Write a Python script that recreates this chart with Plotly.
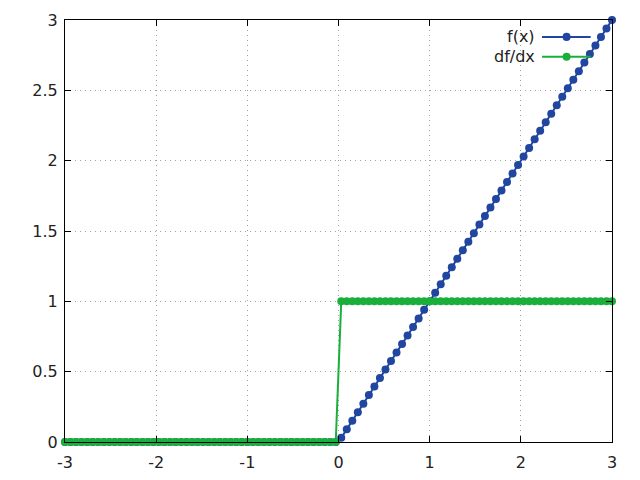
import plotly.graph_objects as go

x_vals = [-3.0000, -2.9394, -2.8788, -2.8182, -2.7576, -2.6970, -2.6364, -2.5758, -2.5152, -2.4545,
          -2.3939, -2.3333, -2.2727, -2.2121, -2.1515, -2.0909, -2.0303, -1.9697, -1.9091, -1.8485,
          -1.7879, -1.7273, -1.6667, -1.6061, -1.5455, -1.4848, -1.4242, -1.3636, -1.3030, -1.2424,
          -1.1818, -1.1212, -1.0606, -1.0000, -0.9394, -0.8788, -0.8182, -0.7576, -0.6970, -0.6364,
          -0.5758, -0.5152, -0.4545, -0.3939, -0.3333, -0.2727, -0.2121, -0.1515, -0.0909, -0.0303,
          0.0303, 0.0909, 0.1515, 0.2121, 0.2727, 0.3333, 0.3939, 0.4545, 0.5152, 0.5758,
          0.6364, 0.6970, 0.7576, 0.8182, 0.8788, 0.9394, 1.0000, 1.0606, 1.1212, 1.1818,
          1.2424, 1.3030, 1.3636, 1.4242, 1.4848, 1.5455, 1.6061, 1.6667, 1.7273, 1.7879,
          1.8485, 1.9091, 1.9697, 2.0303, 2.0909, 2.1515, 2.2121, 2.2727, 2.3333, 2.3939,
          2.4545, 2.5152, 2.5758, 2.6364, 2.6970, 2.7576, 2.8182, 2.8788, 2.9394, 3.0000]

f_vals = [0, 0, 0, 0, 0, 0, 0, 0, 0, 0,
          0, 0, 0, 0, 0, 0, 0, 0, 0, 0,
          0, 0, 0, 0, 0, 0, 0, 0, 0, 0,
          0, 0, 0, 0, 0, 0, 0, 0, 0, 0,
          0, 0, 0, 0, 0, 0, 0, 0, 0, 0,
          0.0303, 0.0909, 0.1515, 0.2121, 0.2727, 0.3333, 0.3939, 0.4545, 0.5152, 0.5758,
          0.6364, 0.6970, 0.7576, 0.8182, 0.8788, 0.9394, 1.0000, 1.0606, 1.1212, 1.1818,
          1.2424, 1.3030, 1.3636, 1.4242, 1.4848, 1.5455, 1.6061, 1.6667, 1.7273, 1.7879,
          1.8485, 1.9091, 1.9697, 2.0303, 2.0909, 2.1515, 2.2121, 2.2727, 2.3333, 2.3939,
          2.4545, 2.5152, 2.5758, 2.6364, 2.6970, 2.7576, 2.8182, 2.8788, 2.9394, 3.0000]

df_vals = [0, 0, 0, 0, 0, 0, 0, 0, 0, 0,
           0, 0, 0, 0, 0, 0, 0, 0, 0, 0,
           0, 0, 0, 0, 0, 0, 0, 0, 0, 0,
           0, 0, 0, 0, 0, 0, 0, 0, 0, 0,
           0, 0, 0, 0, 0, 0, 0, 0, 0, 0,
           1, 1, 1, 1, 1, 1, 1, 1, 1, 1,
           1, 1, 1, 1, 1, 1, 1, 1, 1, 1,
           1, 1, 1, 1, 1, 1, 1, 1, 1, 1,
           1, 1, 1, 1, 1, 1, 1, 1, 1, 1,
           1, 1, 1, 1, 1, 1, 1, 1, 1, 1]

series_names = ["f(x)", "df/dx"]
x_ticks = [-3, -2, -1, 0, 1, 2, 3]
y_ticks = [0, 0.5, 1, 1.5, 2, 2.5, 3]
y_tick_labels = ["0", "0.5", "1", "1.5", "2", "2.5", "3"]

BLUE = "#2046a0"
GREEN = "#1aaf3a"
FONT = "DejaVu Sans"
TXT = "#222222"
FS = 16

fig = go.Figure()
fig.add_trace(go.Scatter(x=x_vals, y=f_vals, mode="lines+markers", name=series_names[0],
                         line=dict(color=BLUE, width=2), marker=dict(color=BLUE, size=8),
                         cliponaxis=False, showlegend=False))
fig.add_trace(go.Scatter(x=x_vals, y=df_vals, mode="lines+markers", name=series_names[1],
                         line=dict(color=GREEN, width=2), marker=dict(color=GREEN, size=8),
                         cliponaxis=False, showlegend=False))

axis_common = dict(showline=True, linecolor="black", linewidth=1, mirror="ticks",
                   ticks="inside", ticklen=6, tickcolor="black", tickwidth=1,
                   showgrid=True, gridcolor="#a0a0a0", griddash="1px,4px", gridwidth=1,
                   zeroline=False, automargin=False,
                   tickfont=dict(family=FONT, size=FS, color=TXT))

fig.update_xaxes(range=[-3, 3], tickvals=x_ticks, ticktext=[str(v) for v in x_ticks],
                 ticklabelstandoff=6, **axis_common)
fig.update_yaxes(range=[0, 3], tickvals=y_ticks, ticktext=y_tick_labels,
                 ticklabelstandoff=3, **axis_common)

# gnuplot-style legend (text, then line sample with marker)
legend_rows = [(series_names[0], BLUE, 0.960), (series_names[1], GREEN, 0.913)]
shapes = []
annotations = []
for name, color, yp in legend_rows:
    annotations.append(dict(xref="paper", yref="paper", x=0.858, y=yp, text=name, showarrow=False,
                            xanchor="right", yanchor="middle", xshift=3,
                            font=dict(family=FONT, size=FS, color=TXT)))
    shapes.append(dict(type="line", xref="paper", yref="paper", x0=0.872, x1=0.961, y0=yp, y1=yp,
                       line=dict(color=color, width=2)))
    shapes.append(dict(type="circle", xref="paper", yref="paper", x0=0.917 - 0.0073, x1=0.917 + 0.0073,
                       y0=yp - 0.0095, y1=yp + 0.0095, fillcolor=color, line=dict(color=color, width=0)))

# the page body adds an 8px offset, so margins are compensated
fig.update_layout(width=640, height=480, margin=dict(l=57, r=36, t=12, b=46),
                  plot_bgcolor="white", paper_bgcolor="white",
                  shapes=shapes, annotations=annotations,
                  font=dict(family=FONT, size=FS, color=TXT))

fig.write_html("out.html")
